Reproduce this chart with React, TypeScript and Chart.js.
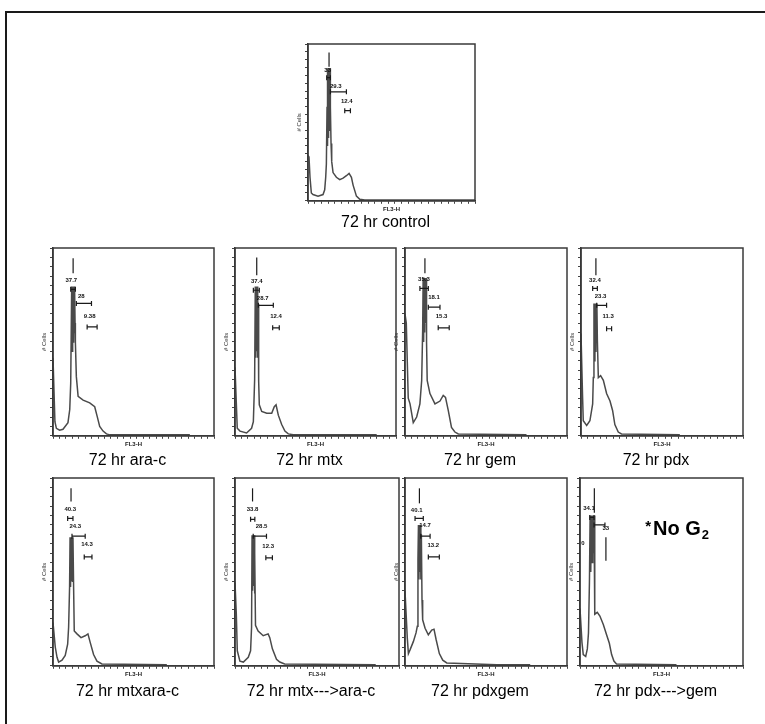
import React, { useEffect, useRef } from "react";
import { Chart, registerables } from "chart.js";

Chart.register(...registerables);
Chart.defaults.font.family = "'Liberation Sans', Arial, Helvetica, sans-serif";

// ---------- axis ticks (FL3-H channel 0..1000, # cells 0..200) ----------
const xTickValues = [0, 40, 80, 120, 160, 200, 240, 280, 320, 360, 400, 440, 480, 520, 560, 600, 640, 680, 720, 760, 800, 840, 880, 920, 960, 1000];
const yTickValues = [0, 10, 20, 30, 40, 50, 60, 70, 80, 90, 100, 110, 120, 130, 140, 150, 160, 170, 180, 190, 200];

// ---------- 72 hr control ----------
const controlX = [0, 6, 12, 20, 30, 60, 90, 100, 106, 110, 114, 116, 118, 120, 122, 124, 126, 128, 130, 132, 134, 138, 142, 150, 170, 190, 210, 230, 246, 260, 270, 280, 290, 310, 340, 1000];
const controlY = [58, 56, 30, 10, 8, 6, 8, 14, 30, 47, 120, 169, 70, 169, 80, 169, 90, 169, 110, 169, 120, 73, 50, 36, 30, 27, 29, 32, 35, 30, 20, 13, 6, 2, 1, 1];
const controlPct = ["33", "29.3", "12.4"];
const controlPctAt = [[118, 166], [166, 146], [232, 127]];
const controlGates = [[112, 134, 157], [134, 230, 139], [220, 254, 115]];
const controlMarker = [126, 171, 189];

// ---------- 72 hr ara-c ----------
const aracX = [0, 5, 12, 21, 41, 62, 93, 104, 110, 116, 119, 122, 125, 128, 131, 134, 137, 139, 145, 156, 187, 228, 259, 274, 290, 311, 332, 353, 850];
const aracY = [83, 83, 15, 8, 6, 7, 14, 28, 56, 159, 90, 159, 100, 159, 110, 159, 120, 100, 63, 42, 38, 35, 31, 21, 10, 5, 2, 1, 1];
const aracPct = ["37.7", "28", "9.38"];
const aracPctAt = [[114, 166], [176, 148], [228, 127]];
const aracGates = [[110, 139, 156], [145, 239, 141], [212, 274, 116]];
const aracMarker = [125, 173, 189];

// ---------- 72 hr mtx ----------
const mtxX = [0, 6, 14, 31, 72, 103, 114, 122, 126, 129, 132, 135, 138, 141, 144, 147, 151, 166, 197, 228, 244, 255, 269, 290, 310, 331, 362, 880];
const mtxY = [73, 73, 8, 5, 3, 8, 15, 60, 159, 83, 159, 90, 159, 83, 140, 58, 33, 26, 24, 24, 31, 33, 22, 12, 5, 2, 1, 1];
const mtxPct = ["37.4", "28.7", "12.4"];
const mtxPctAt = [[135, 165], [172, 146], [255, 127]];
const mtxGates = [[114, 151, 155], [145, 238, 139], [234, 275, 115]];
const mtxMarker = [135, 171, 190];

// ---------- 72 hr gem ----------
const gemX = [0, 8, 20, 31, 51, 72, 92, 103, 109, 112, 115, 118, 121, 124, 127, 130, 133, 137, 154, 185, 216, 236, 250, 267, 287, 308, 329, 750];
const gemY = [130, 120, 40, 34, 14, 20, 34, 59, 112, 168, 100, 168, 110, 168, 120, 168, 100, 59, 45, 34, 37, 43, 41, 27, 9, 4, 2, 1];
const gemPct = ["35.3", "18.1", "15.3"];
const gemPctAt = [[117, 167], [179, 147], [226, 127]];
const gemGates = [[92, 144, 157], [144, 216, 137], [205, 273, 115]];
const gemMarker = [123, 173, 189];

// ---------- 72 hr pdx ----------
const pdxX = [0, 6, 10, 14, 35, 55, 72, 76, 80, 83, 86, 89, 92, 95, 98, 101, 107, 121, 138, 158, 179, 195, 209, 230, 250, 610];
const pdxY = [109, 109, 40, 16, 11, 16, 34, 62, 141, 80, 141, 90, 141, 100, 141, 102, 62, 64, 59, 45, 37, 27, 12, 4, 2, 1];
const pdxPct = ["32.4", "23.3", "11.3"];
const pdxPctAt = [[86, 166], [121, 148], [168, 127]];
const pdxGates = [[72, 101, 157], [97, 158, 139], [158, 189, 114]];
const pdxMarker = [92, 171, 189];

// ---------- 72 hr mtxara-c ----------
const mtxaracX = [0, 6, 14, 25, 35, 56, 76, 91, 97, 103, 106, 109, 112, 115, 118, 121, 124, 128, 132, 149, 174, 200, 217, 231, 252, 273, 304, 707];
const mtxaracY = [46, 46, 20, 9, 4, 6, 11, 23, 41, 84, 137, 84, 137, 90, 137, 90, 137, 84, 37, 34, 30, 32, 34, 25, 12, 5, 2, 1];
const mtxaracPct = ["40.3", "24.3", "14.3"];
const mtxaracPctAt = [[107, 167], [138, 148], [211, 129]];
const mtxaracGates = [[91, 124, 157], [118, 200, 138], [194, 242, 116]];
const mtxaracMarker = [112, 175, 189];

// ---------- 72 hr mtx--->ara-c ----------
const mtxThenAracX = [0, 4, 8, 14, 30, 51, 81, 95, 101, 104, 107, 110, 113, 116, 119, 121, 125, 141, 172, 202, 212, 228, 253, 273, 303, 858];
const mtxThenAracY = [89, 89, 55, 16, 5, 4, 9, 16, 41, 139, 80, 139, 85, 139, 77, 120, 43, 37, 32, 34, 30, 18, 7, 4, 2, 1];
const mtxThenAracPct = ["33.8", "28.5", "12.3"];
const mtxThenAracPctAt = [[107, 167], [162, 148], [202, 127]];
const mtxThenAracGates = [[95, 121, 156], [111, 192, 138], [188, 228, 115]];
const mtxThenAracMarker = [107, 175, 189];

// ---------- 72 hr pdxgem ----------
const pdxgemX = [0, 6, 14, 21, 31, 52, 68, 76, 80, 83, 86, 89, 92, 95, 98, 101, 105, 109, 124, 144, 165, 179, 192, 212, 233, 258, 567, 773];
const pdxgemY = [80, 80, 30, 13, 17, 26, 35, 42, 113, 150, 92, 150, 100, 150, 92, 140, 70, 49, 40, 33, 38, 39, 28, 13, 6, 3, 1, 1];
const pdxgemPct = ["40.1", "14.7", "13.2"];
const pdxgemPctAt = [[72, 166], [124, 150], [175, 128]];
const pdxgemGates = [[62, 113, 157], [97, 155, 138], [144, 212, 116]];
const pdxgemMarker = [89, 173, 189];

// ---------- 72 hr pdx--->gem ----------
const pdxThenGemX = [0, 6, 12, 20, 35, 45, 52, 58, 62, 66, 70, 74, 78, 82, 86, 89, 92, 106, 122, 143, 163, 180, 194, 208, 224, 592];
const pdxThenGemY = [61, 61, 25, 12, 10, 18, 35, 90, 160, 100, 160, 110, 160, 120, 160, 60, 55, 57, 53, 44, 33, 24, 12, 5, 2, 1];
const pdxThenGemPct = ["34.1", "0", "33"];
const pdxThenGemPctAt = [[55, 168], [18, 130], [158, 146]];
const pdxThenGemGates = [[60, 86, 158], [86, 153, 150]];
const pdxThenGemMarker = [88, 163, 189];
const pdxThenGemG2Line = [159, 112, 137];
const noG2Note = ["*", "No G", "2"];
const noG2At = [400, 139];

// ---------- panel layout (plot-area pixel boxes: left, top, right, bottom) ----------
type Panel = {
  title: string;
  box: number[];
  titlePad: number;
  xs: number[];
  ys: number[];
  pct: string[];
  pctAt: number[][];
  gates: number[][];
  marker: number[];
  extraLine?: number[];
  note?: boolean;
};

const panels: Panel[] = [
  { title: "72 hr control", box: [308, 44, 475, 200], titlePad: 0, xs: controlX, ys: controlY, pct: controlPct, pctAt: controlPctAt, gates: controlGates, marker: controlMarker },
  { title: "72 hr ara-c", box: [53, 248, 214, 435], titlePad: 3, xs: aracX, ys: aracY, pct: aracPct, pctAt: aracPctAt, gates: aracGates, marker: aracMarker },
  { title: "72 hr mtx", box: [235, 248, 396, 435], titlePad: 3, xs: mtxX, ys: mtxY, pct: mtxPct, pctAt: mtxPctAt, gates: mtxGates, marker: mtxMarker },
  { title: "72 hr gem", box: [405, 248, 567, 435], titlePad: 3, xs: gemX, ys: gemY, pct: gemPct, pctAt: gemPctAt, gates: gemGates, marker: gemMarker },
  { title: "72 hr pdx", box: [581, 248, 743, 435], titlePad: 3, xs: pdxX, ys: pdxY, pct: pdxPct, pctAt: pdxPctAt, gates: pdxGates, marker: pdxMarker },
  { title: "72 hr mtxara-c", box: [53, 478, 214, 665], titlePad: 4, xs: mtxaracX, ys: mtxaracY, pct: mtxaracPct, pctAt: mtxaracPctAt, gates: mtxaracGates, marker: mtxaracMarker },
  { title: "72 hr mtx--->ara-c", box: [235, 478, 399, 665], titlePad: 4, xs: mtxThenAracX, ys: mtxThenAracY, pct: mtxThenAracPct, pctAt: mtxThenAracPctAt, gates: mtxThenAracGates, marker: mtxThenAracMarker },
  { title: "72 hr pdxgem", box: [405, 478, 567, 665], titlePad: 4, xs: pdxgemX, ys: pdxgemY, pct: pdxgemPct, pctAt: pdxgemPctAt, gates: pdxgemGates, marker: pdxgemMarker },
  { title: "72 hr pdx--->gem", box: [580, 478, 743, 665], titlePad: 4, xs: pdxThenGemX, ys: pdxThenGemY, pct: pdxThenGemPct, pctAt: pdxThenGemPctAt, gates: pdxThenGemGates, marker: pdxThenGemMarker, extraLine: pdxThenGemG2Line, note: true },
];

const Y_AXIS_W = 12;
const X_AXIS_H = 12;
const PAD_L = 2;
const PAD_R = Y_AXIS_W + PAD_L;
const PAD_T = 3;
const PAD_B = 2;
const TITLE_FONT = 16;

function makeAnnotPlugin(p: Panel) {
  return {
    id: "flowAnnot",
    afterDatasetsDraw(chart: any) {
      const { ctx, scales, chartArea } = chart;
      const xs = scales.x;
      const ys = scales.y;
      const px = (v: number) => xs.getPixelForValue(v);
      const py = (v: number) => ys.getPixelForValue(v);
      ctx.save();
      ctx.strokeStyle = "#1a1a1a";
      ctx.lineWidth = 1.2;
      // marker line above G1 peak
      ctx.beginPath();
      ctx.moveTo(px(p.marker[0]), py(p.marker[1]));
      ctx.lineTo(px(p.marker[0]), py(p.marker[2]));
      ctx.stroke();
      // gate brackets
      p.gates.forEach((g) => {
        const x1 = px(g[0]);
        const x2 = px(g[1]);
        const y = py(g[2]);
        ctx.beginPath();
        ctx.moveTo(x1, y);
        ctx.lineTo(x2, y);
        ctx.moveTo(x1, y - 2.5);
        ctx.lineTo(x1, y + 2.5);
        ctx.moveTo(x2, y - 2.5);
        ctx.lineTo(x2, y + 2.5);
        ctx.stroke();
      });
      if (p.extraLine) {
        ctx.beginPath();
        ctx.moveTo(px(p.extraLine[0]), py(p.extraLine[1]));
        ctx.lineTo(px(p.extraLine[0]), py(p.extraLine[2]));
        ctx.stroke();
      }
      // percentage labels
      ctx.fillStyle = "#111";
      ctx.font = "bold 6px 'Liberation Sans', Arial, sans-serif";
      ctx.textAlign = "center";
      ctx.textBaseline = "middle";
      p.pct.forEach((t, i) => {
        ctx.fillText(t, px(p.pctAt[i][0]), py(p.pctAt[i][1]));
      });
      // "*No G2" note
      if (p.note) {
        let x = px(noG2At[0]);
        const base = py(noG2At[1]);
        ctx.textAlign = "left";
        ctx.textBaseline = "alphabetic";
        ctx.fillStyle = "#000";
        ctx.font = "bold 15px 'Liberation Sans', Arial, sans-serif";
        ctx.fillText(noG2Note[0], x, base - 4);
        x += ctx.measureText(noG2Note[0]).width + 2;
        ctx.font = "bold 20px 'Liberation Sans', Arial, sans-serif";
        ctx.fillText(noG2Note[1], x, base);
        x += ctx.measureText(noG2Note[1]).width + 1;
        ctx.font = "bold 13px 'Liberation Sans', Arial, sans-serif";
        ctx.fillText(noG2Note[2], x, base + 4);
      }
      // box around plot area
      ctx.strokeStyle = "#3a3a3a";
      ctx.lineWidth = 1.5;
      ctx.strokeRect(chartArea.left, chartArea.top, chartArea.right - chartArea.left, chartArea.bottom - chartArea.top);
      ctx.restore();
    },
  };
}

function HistPanel({ p }: { p: Panel }) {
  const ref = useRef<HTMLCanvasElement>(null);
  const [l, t, r, b] = p.box;
  const left = l - Y_AXIS_W - PAD_L;
  const top = t - PAD_T;
  const width = r - l + Y_AXIS_W + PAD_L + PAD_R;
  const height = b - t + PAD_T + X_AXIS_H + Math.ceil(TITLE_FONT * 1.2) + p.titlePad + PAD_B;

  useEffect(() => {
    if (!ref.current) return;
    const tickGrid = {
      display: true,
      drawOnChartArea: false,
      drawTicks: true,
      tickLength: 3,
      color: "#444",
      lineWidth: 1,
    };
    const chart = new Chart(ref.current, {
      type: "line",
      data: {
        datasets: [
          {
            data: p.xs.map((x, i) => ({ x, y: p.ys[i] })),
            borderColor: "#4a4a4a",
            borderWidth: 1.5,
            pointRadius: 0,
            tension: 0,
            fill: false,
          },
        ],
      },
      options: {
        animation: false,
        responsive: false,
        maintainAspectRatio: false,
        devicePixelRatio: 1,
        layout: { padding: { left: PAD_L, right: PAD_R, top: PAD_T, bottom: PAD_B } },
        plugins: {
          legend: { display: false },
          tooltip: { enabled: false },
          title: {
            display: true,
            position: "bottom",
            text: p.title,
            color: "#000",
            font: { size: TITLE_FONT, weight: "normal", lineHeight: 1.2 },
            padding: { top: p.titlePad, bottom: 0 },
          },
        },
        scales: {
          x: {
            type: "linear",
            min: 0,
            max: 1000,
            afterBuildTicks: (s: any) => {
              s.ticks = xTickValues.map((v) => ({ value: v }));
            },
            afterFit: (s: any) => {
              s.height = X_AXIS_H;
            },
            ticks: { display: false },
            grid: tickGrid,
            border: { display: true, color: "#333", width: 1.5 },
            title: { display: true, text: "FL3-H", color: "#222", font: { size: 6, weight: "bold" }, padding: 0 },
          },
          y: {
            type: "linear",
            min: 0,
            max: 200,
            afterBuildTicks: (s: any) => {
              s.ticks = yTickValues.map((v) => ({ value: v }));
            },
            afterFit: (s: any) => {
              s.width = Y_AXIS_W;
            },
            ticks: { display: false },
            grid: tickGrid,
            border: { display: true, color: "#333", width: 1.5 },
            title: { display: true, text: "# Cells", color: "#333", font: { size: 6 }, padding: 0 },
          },
        },
      } as any,
      plugins: [makeAnnotPlugin(p)],
    });
    return () => chart.destroy();
  }, [p]);

  return (
    <canvas
      ref={ref}
      width={width}
      height={height}
      style={{ position: "absolute", left, top, width, height }}
    />
  );
}

export default function App() {
  return (
    <div
      style={{
        position: "absolute",
        left: 0,
        top: 0,
        width: 765,
        height: 724,
        background: "#fff",
        overflow: "hidden",
      }}
    >
      <div
        style={{
          position: "absolute",
          left: 5,
          top: 11,
          width: 800,
          height: 800,
          borderLeft: "2px solid #1a1a1a",
          borderTop: "2px solid #1a1a1a",
        }}
      />
      {panels.map((p) => (
        <HistPanel key={p.title} p={p} />
      ))}
    </div>
  );
}
